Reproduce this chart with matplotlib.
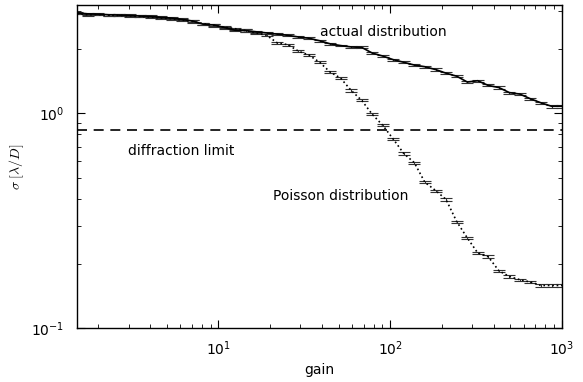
import matplotlib
matplotlib.use("Agg")
import matplotlib.pyplot as plt

gain = [1.50, 1.73, 1.99, 2.29, 2.64, 3.04, 3.50, 4.04, 4.65, 5.36,
        6.17, 7.11, 8.18, 9.43, 10.9, 12.5, 14.4, 16.6, 19.1, 22.0,
        25.4, 29.2, 33.6, 38.8, 44.6, 51.4, 59.2, 68.2, 78.6, 90.5,
        104, 120, 138, 159, 184, 211, 244, 281, 323, 372,
        429, 494, 569, 655, 755, 869, 1000]

actual = [2.94, 2.91, 2.90, 2.88, 2.87, 2.86, 2.84, 2.83, 2.80, 2.78,
          2.74, 2.69, 2.60, 2.58, 2.51, 2.44, 2.43, 2.40, 2.37, 2.34,
          2.31, 2.27, 2.24, 2.18, 2.11, 2.07, 2.04, 2.03, 1.91, 1.85,
          1.78, 1.73, 1.68, 1.65, 1.60, 1.54, 1.49, 1.40, 1.42, 1.35,
          1.32, 1.25, 1.23, 1.17, 1.12, 1.08, 1.08]
actual_err = [0.03, 0.03, 0.03, 0.03, 0.03, 0.03, 0.03, 0.03, 0.03, 0.03,
              0.03, 0.03, 0.03, 0.03, 0.03, 0.03, 0.03, 0.03, 0.03, 0.03,
              0.025, 0.025, 0.025, 0.025, 0.02, 0.02, 0.02, 0.02, 0.02, 0.02,
              0.02, 0.02, 0.02, 0.02, 0.02, 0.02, 0.015, 0.015, 0.015, 0.015,
              0.015, 0.015, 0.015, 0.015, 0.015, 0.015, 0.015]

poisson = [2.92, 2.88, 2.89, 2.87, 2.86, 2.85, 2.83, 2.81, 2.78, 2.76,
           2.72, 2.68, 2.62, 2.57, 2.52, 2.48, 2.43, 2.37, 2.31, 2.13,
           2.09, 1.95, 1.87, 1.73, 1.56, 1.46, 1.28, 1.15, 0.99, 0.88,
           0.76, 0.65, 0.59, 0.478, 0.437, 0.398, 0.313, 0.263, 0.224, 0.215,
           0.185, 0.174, 0.168, 0.164, 0.158, 0.158, 0.158]
poisson_err = [0.03, 0.03, 0.03, 0.03, 0.03, 0.03, 0.03, 0.03, 0.03, 0.03,
               0.03, 0.03, 0.03, 0.03, 0.03, 0.03, 0.03, 0.025, 0.025, 0.025,
               0.025, 0.02, 0.02, 0.02, 0.018, 0.017, 0.015, 0.013, 0.011, 0.01,
               0.009, 0.008, 0.007, 0.006, 0.005, 0.005, 0.004, 0.003, 0.003, 0.003,
               0.002, 0.002, 0.002, 0.002, 0.002, 0.002, 0.002]

diffraction_limit = 0.84

plt.rcParams['mathtext.fontset'] = 'cm'
plt.rcParams['font.family'] = 'DejaVu Sans'

fig = plt.figure(figsize=(5.83, 3.82), dpi=100)
ax = fig.add_axes([0.132, 0.141, 0.832, 0.846])

ax.errorbar(gain, actual, yerr=actual_err, color='black', ls='-', lw=1.2,
            elinewidth=0.8, capsize=4, capthick=0.8, ecolor='#333333')
ax.errorbar(gain, poisson, yerr=poisson_err, color='black', ls=':', lw=1.2,
            elinewidth=0.8, capsize=4, capthick=0.8, ecolor='#333333')
ax.axhline(diffraction_limit, color='black', ls='--', lw=1.2, dashes=(6, 4))

ax.set_xscale('log')
ax.set_yscale('log')
ax.set_xlim(1.5, 1000)
ax.set_ylim(0.1, 3.2)

ax.tick_params(which='both', direction='in', top=True, right=True, labelsize=10)
ax.tick_params(which='major', length=6, width=0.8)
ax.tick_params(which='minor', length=3, width=0.6)
ax.tick_params(axis='x', pad=8)
ax.tick_params(axis='y', pad=9)
for s in ax.spines.values():
    s.set_linewidth(1.0)

ax.set_xlabel('gain', fontsize=10)
ax.set_ylabel(r'$\sigma\ [\lambda/D]$', fontsize=10)
ax.yaxis.set_label_coords(-0.105, 0.5)

ax.text(39.2, 2.39, 'actual distribution', fontsize=10, va='center', ha='left')
ax.text(2.96, 0.668, 'diffraction limit', fontsize=10, va='center', ha='left')
ax.text(20.9, 0.412, 'Poisson distribution', fontsize=10, va='center', ha='left')

fig.savefig('out.png', dpi=100)
